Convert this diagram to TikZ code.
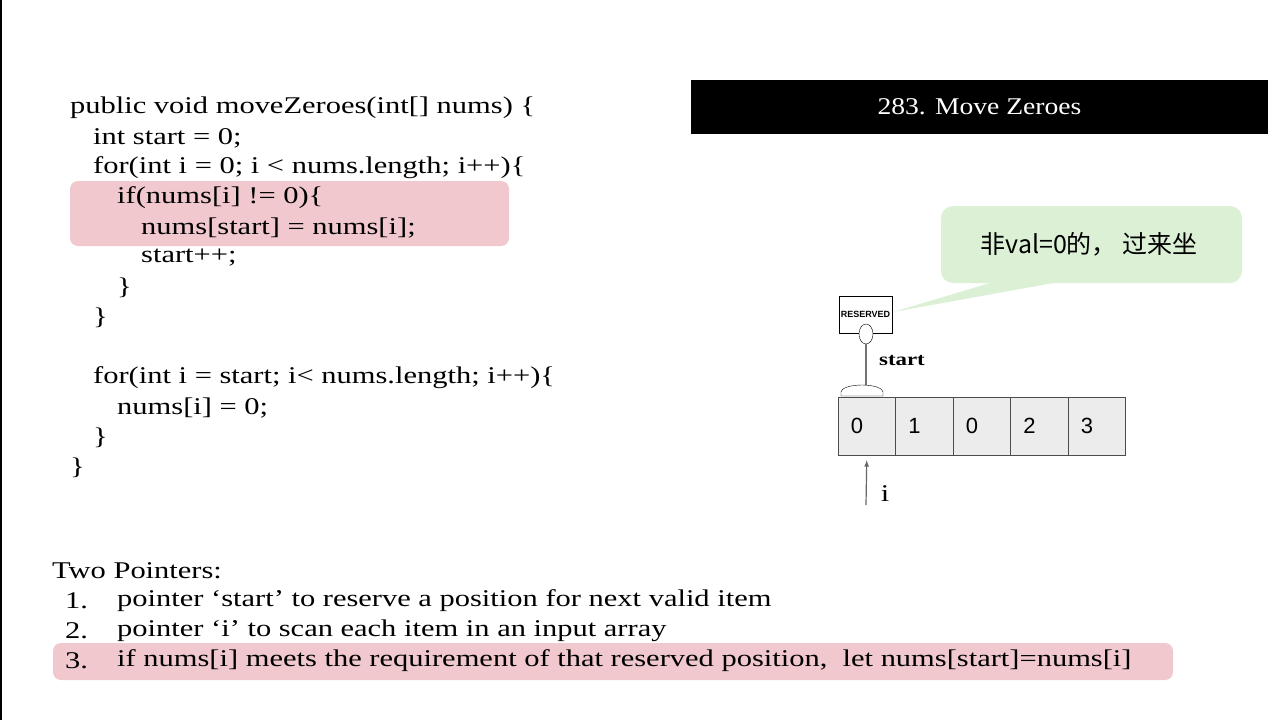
\documentclass[tikz,border=0pt]{standalone}
\usepackage{fontspec}
\setmainfont[FakeStretch=1.27]{Liberation Serif}
\setsansfont{Liberation Sans}
\newfontfamily\titlefont[FakeStretch=1.15]{Liberation Serif}
\newfontfamily\cjk{Noto Sans CJK SC}
\usetikzlibrary{positioning}
\definecolor{hlpink}{RGB}{240,200,205}
\definecolor{tipgreen}{RGB}{220,240,214}
\definecolor{cellgray}{RGB}{236,236,236}
\tikzset{
  codeline/.style = {anchor=west, inner sep=0pt, font=\fontsize{24}{24}\selectfont},
  listline/.style = {anchor=west, inner sep=0pt, font=\fontsize{24}{24}\selectfont},
  cell/.style = {draw=black!70, fill=cellgray, minimum width=57.5pt, minimum height=58pt,
    inner sep=0pt, font=\sffamily\fontsize{22}{22}\selectfont, text width=32pt, align=left}
}
\begin{document}
\begin{tikzpicture}[x=1pt,y=-1pt]
\useasboundingbox (0,0) rectangle (1280,720);
\draw[line width=1.5pt] (1,0) -- (1,720);
% highlights
\fill[hlpink, rounded corners=8pt] (70,181) rectangle (509,246);
\fill[hlpink, rounded corners=8pt] (53,643) rectangle (1173,680);
% title bar
\node (title) [fill=black, minimum width=577pt, minimum height=54pt, text=white,
  font=\titlefont\fontsize{24}{24}\selectfont] at (979.5,107) {283. Move Zeroes};
% code
\node (c1) [codeline] at (70,108) {public void moveZeroes(int[] nums) \{};
\node (c2) [codeline] at (93,138) {int start = 0;};
\node (c3) [codeline] at (93,168) {for(int i = 0; i < nums.length; i++)\{};
\node (c4) [codeline] at (117,198) {if(nums[i] != 0)\{};
\node (c5) [codeline] at (141,228) {nums[start] = nums[i];};
\node (c6) [codeline] at (141,258) {start++;};
\node (c7) [codeline] at (117,288) {\}};
\node (c8) [codeline] at (93,318) {\}};
\node (c9) [codeline] at (93,378) {for(int i = start; i< nums.length; i++)\{};
\node (c10) [codeline] at (117,408) {nums[i] = 0;};
\node (c11) [codeline] at (93,438) {\}};
\node (c12) [codeline] at (70,468) {\}};
% callout
\fill[tipgreen, rounded corners=12pt] (941,206) rectangle (1242,283);
\fill[tipgreen] (1000,280) -- (893,312) -- (1070,280) -- cycle;
\node (tip) [font=\cjk\fontsize{25}{25}\selectfont] at (1089,244) {非val=0的， 过来坐};
% array
\foreach \v [count=\k from 0] in {0,1,0,2,3}
  \node (a\k) [cell] at (866.75+57.5*\k,426) {\v};
% reserved sign
\node (sign) [draw, fill=white, minimum width=53pt, minimum height=37pt, inner sep=0pt,
  font=\sffamily\bfseries\fontsize{9}{9}\selectfont] at (865.5,314.5) {RESERVED};
\draw[gray!90!black, line width=1.2pt] (866,344) -- (866,386);
\draw[fill=white] (866,334) ellipse (7 and 10);
\draw[fill=white] (841,396) -- (841,392) arc[start angle=180, end angle=360, x radius=21, y radius=7] -- (883,396) -- cycle;
\node (startlbl) [font=\bfseries\fontsize{18}{18}\selectfont] at (902,361) {start};
% pointer i
\coordinate (ifoot) at (866,505);
\draw[gray!80!black, line width=1.2pt, -latex] (ifoot) -- ([yshift=-5pt]a0.south);
\node (ilbl) [font=\fontsize{24}{24}\selectfont] at (885,494) {i};
% explanation
\node (head) [listline] at (52,571) {Two Pointers:};
\node (n1) [listline] at (65,601) {1.};
\node (t1) [listline] at (117,601) {pointer ‘start’ to reserve a position for next valid item};
\node (n2) [listline] at (65,631) {2.};
\node (t2) [listline] at (117,631) {pointer ‘i’ to scan each item in an input array};
\node (n3) [listline] at (65,661) {3.};
\node (t3) [listline] at (117,661) {if nums[i] meets the requirement of that reserved position,\ \ let nums[start]=nums[i]};
\end{tikzpicture}
\end{document}
